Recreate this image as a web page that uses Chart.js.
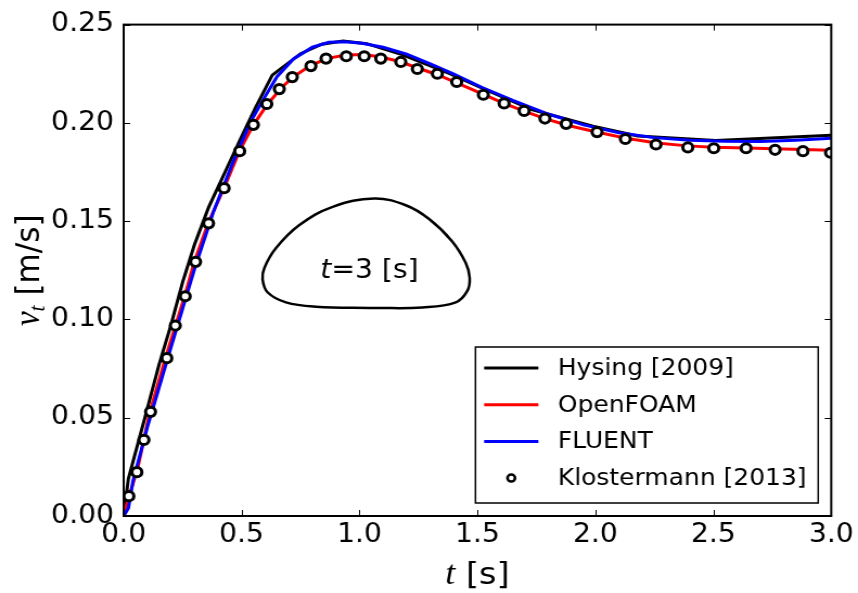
<!DOCTYPE html>
<html>
<head>
<meta charset="utf-8">
<script src="https://cdn.jsdelivr.net/npm/chart.js@4.4.1/dist/chart.umd.min.js"></script>
<style>
    html, body { margin: 0; padding: 0; background: #fff; overflow: hidden; }
</style>
</head>
<body>
<!-- figure is drawn 791 wide and stretched to 858, like the source image -->
<canvas id="chart" width="791" height="593" style="display:block;width:858px;height:593px"></canvas>
<script>
// ---- data ----
const hysingT = [0, 0.02, 0.09, 0.15, 0.20, 0.25, 0.30, 0.36, 0.43, 0.50, 0.56, 0.63, 0.75, 0.84, 0.93, 1.03, 1.18, 1.38, 1.52, 1.73, 1.99, 2.18, 2.51, 2.79, 3.0];
const hysingV = [0, 0.019, 0.050, 0.077, 0.097, 0.119, 0.138, 0.157, 0.175, 0.193, 0.208, 0.2243, 0.2352, 0.2400, 0.2416, 0.2403, 0.2347, 0.2252, 0.2177, 0.2067, 0.1983, 0.1933, 0.1911, 0.1925, 0.1937];

const foamT = [0, 0.02, 0.06, 0.11, 0.18, 0.26, 0.30, 0.36, 0.43, 0.49, 0.55, 0.61, 0.67, 0.72, 0.79, 0.86, 0.94, 1.02, 1.09, 1.17, 1.25, 1.33, 1.41, 1.52, 1.61, 1.70, 1.79, 1.88, 2.0, 2.13, 2.26, 2.39, 2.5, 2.64, 2.76, 2.88, 3.0];
const foamV = [0, 0.009, 0.0245, 0.0525, 0.0815, 0.1125, 0.1295, 0.1495, 0.168, 0.1855, 0.199, 0.2095, 0.218, 0.2235, 0.229, 0.2327, 0.2345, 0.2348, 0.2335, 0.2312, 0.2278, 0.2245, 0.2205, 0.2148, 0.2100, 0.2058, 0.2020, 0.1988, 0.1955, 0.1922, 0.1898, 0.1883, 0.1876, 0.1872, 0.1868, 0.1864, 0.1861];

const fluentT = [0, 0.02, 0.04, 0.10, 0.20, 0.30, 0.38, 0.46, 0.54, 0.60, 0.65, 0.72, 0.80, 0.87, 0.94, 1.01, 1.10, 1.20, 1.30, 1.40, 1.52, 1.65, 1.80, 1.95, 2.10, 2.25, 2.40, 2.55, 2.70, 2.85, 3.0];
const fluentV = [0, 0.004, 0.018, 0.045, 0.0855, 0.1255, 0.1545, 0.1790, 0.2009, 0.2135, 0.2235, 0.2325, 0.2385, 0.2410, 0.2413, 0.2405, 0.2385, 0.2350, 0.2300, 0.2248, 0.2180, 0.2115, 0.2045, 0.1990, 0.1950, 0.1925, 0.1912, 0.1906, 0.1905, 0.1912, 0.1922];

const klostT = [0.022, 0.056, 0.086, 0.114, 0.183, 0.219, 0.261, 0.305, 0.360, 0.426, 0.492, 0.550, 0.607, 0.660, 0.715, 0.794, 0.858, 0.944, 1.020, 1.090, 1.175, 1.245, 1.330, 1.412, 1.525, 1.613, 1.698, 1.786, 1.876, 2.007, 2.127, 2.257, 2.392, 2.502, 2.639, 2.762, 2.880, 2.997];
const klostV = [0.0101, 0.0223, 0.0387, 0.0530, 0.0803, 0.0969, 0.1118, 0.1293, 0.1489, 0.1668, 0.1856, 0.1990, 0.2096, 0.2172, 0.2233, 0.2289, 0.2327, 0.2339, 0.2339, 0.2327, 0.2310, 0.2274, 0.2250, 0.2208, 0.2143, 0.2099, 0.2061, 0.2022, 0.1995, 0.1953, 0.1918, 0.1890, 0.1875, 0.1871, 0.1871, 0.1863, 0.1856, 0.1848];

// bubble outline at t = 3 s (inset sketch, in axis units)
const bubbleX = [1.062, 1.266, 1.408, 1.457, 1.467, 1.450, 1.393, 1.295, 1.196, 1.062, 0.886, 0.745, 0.646, 0.597, 0.589, 0.611, 0.688, 0.815, 1.062];
const bubbleY = [0.1058, 0.1061, 0.1087, 0.1145, 0.1212, 0.1288, 0.1397, 0.1511, 0.1581, 0.1615, 0.1573, 0.1480, 0.1363, 0.1263, 0.1204, 0.1137, 0.1087, 0.1065, 0.1058];

const seriesNames = ['Hysing [2009]', 'OpenFOAM', 'FLUENT', 'Klostermann [2013]'];
const seriesColors = ['#000000', '#ff0000', '#0000ff', '#000000'];

const xTicks = [0, 0.5, 1.0, 1.5, 2.0, 2.5, 3.0];
const yTicks = [0, 0.05, 0.10, 0.15, 0.20, 0.25];

const pts = (xs, ys) => xs.map((x, i) => ({ x, y: ys[i] }));
const SANS = '"DejaVu Sans", sans-serif';
const SERIF_I = 'italic 33px "Liberation Serif", serif';

function lineSet(i, xs, ys, order) {
    return {
        label: seriesNames[i],
        data: pts(xs, ys),
        borderColor: seriesColors[i],
        borderWidth: 3,
        pointRadius: 0,
        tension: 0,
        fill: false,
        order,
    };
}

// frame + inward ticks on all four sides, titles, inset text, legend
const frame = {
    id: 'frame',
    afterDatasetsDraw(chart) {
        const { ctx, chartArea: a, scales: { x, y } } = chart;
        ctx.save();
        ctx.strokeStyle = '#000';
        ctx.lineWidth = 1;
        ctx.beginPath();
        xTicks.forEach(v => {
            const px = Math.round(x.getPixelForValue(v)) + 0.5;
            ctx.moveTo(px, a.bottom); ctx.lineTo(px, a.bottom - 6);
            ctx.moveTo(px, a.top); ctx.lineTo(px, a.top + 6);
        });
        yTicks.forEach(v => {
            const py = Math.round(y.getPixelForValue(v)) + 0.5;
            ctx.moveTo(a.left, py); ctx.lineTo(a.left + 6, py);
            ctx.moveTo(a.right, py); ctx.lineTo(a.right - 6, py);
        });
        ctx.stroke();
        ctx.lineWidth = 2;
        ctx.strokeRect(a.left, a.top, a.right - a.left, a.bottom - a.top);
        ctx.restore();
    },
    afterDraw(chart) {
        const { ctx, chartArea: a, scales: { x, y } } = chart;
        ctx.save();
        ctx.fillStyle = '#000';
        ctx.textBaseline = 'alphabetic';

        // inset label "t=3 [s]"
        const cx = x.getPixelForValue(1.042), cy = y.getPixelForValue(0.1255) + 9;
        ctx.font = 'oblique 26px ' + SANS;
        const w1 = ctx.measureText('t').width;
        ctx.font = '26px ' + SANS;
        const w2 = ctx.measureText('=3 [s]').width;
        let sx = cx - (w1 + w2) / 2;
        ctx.font = 'oblique 26px ' + SANS;
        ctx.fillText('t', sx, cy);
        ctx.font = '26px ' + SANS;
        ctx.fillText('=3 [s]', sx + w1, cy);

        // x-axis title
        ctx.font = SERIF_I;
        const tw = ctx.measureText('t').width;
        ctx.font = '31px ' + SANS;
        const sw = ctx.measureText(' [s]').width;
        sx = (a.left + a.right) / 2 - (tw + sw) / 2;
        ctx.font = SERIF_I;
        ctx.fillText('t', sx, 584);
        ctx.font = '31px ' + SANS;
        ctx.fillText(' [s]', sx + tw, 584);

        // y-axis title (rotated)
        ctx.translate(36, (a.top + a.bottom) / 2);
        ctx.rotate(-Math.PI / 2);
        ctx.font = SERIF_I;
        const vw = ctx.measureText('v').width;
        ctx.font = 'italic 22px "Liberation Serif", serif';
        const subw = ctx.measureText('t').width;
        ctx.font = '31px ' + SANS;
        const mw = ctx.measureText(' [m/s]').width;
        sx = -(vw + subw + mw) / 2;
        ctx.font = SERIF_I;
        ctx.fillText('v', sx, 0);
        ctx.font = 'italic 22px "Liberation Serif", serif';
        ctx.fillText('t', sx + vw, 5);
        ctx.font = '31px ' + SANS;
        ctx.fillText(' [m/s]', sx + vw + subw, 0);
        ctx.restore();

        // legend box, lower right inside the axes
        ctx.save();
        const bw = 316, bh = 156;
        const bx = a.right - 12 - bw, by = a.bottom - 13 - bh;
        ctx.fillStyle = '#fff';
        ctx.fillRect(bx, by, bw, bh);
        ctx.strokeStyle = '#000';
        ctx.lineWidth = 1.5;
        ctx.strokeRect(bx, by, bw, bh);
        ctx.font = '23px ' + SANS;
        ctx.textBaseline = 'middle';
        seriesNames.forEach((name, i) => {
            const ry = by + 21 + i * 36.7;
            if (i < 3) {
                ctx.strokeStyle = seriesColors[i];
                ctx.lineWidth = 3;
                ctx.beginPath();
                ctx.moveTo(bx + 8, ry); ctx.lineTo(bx + 58, ry);
                ctx.stroke();
            } else {
                ctx.strokeStyle = '#000';
                ctx.lineWidth = 2.5;
                ctx.beginPath();
                ctx.arc(bx + 33, ry, 3.5, 0, Math.PI * 2);
                ctx.stroke();
            }
            ctx.fillStyle = '#000';
            ctx.fillText(name, bx + 76, ry + 1);
        });
        ctx.restore();
    }
};

new Chart(document.getElementById('chart'), {
    type: 'line',
    data: {
        datasets: [
            {
                label: 'bubble',
                data: pts(bubbleX, bubbleY),
                borderColor: '#000',
                borderWidth: 2.5,
                pointRadius: 0,
                tension: 0.4,
                fill: false,
                order: 5,
            },
            lineSet(0, hysingT, hysingV, 4),
            lineSet(1, foamT, foamV, 3),
            lineSet(2, fluentT, fluentV, 2),
            {
                label: seriesNames[3],
                data: pts(klostT, klostV),
                showLine: false,
                pointRadius: 4.6,
                pointBorderWidth: 3,
                pointBorderColor: '#000',
                pointBackgroundColor: '#fff',
                order: 1,
            },
        ],
    },
    options: {
        responsive: false,
        animation: false,
        devicePixelRatio: 1,
        layout: { padding: { top: 19, right: 23, left: 0, bottom: 0 } },
        plugins: { legend: { display: false }, tooltip: { enabled: false } },
        scales: {
            x: {
                type: 'linear', min: 0, max: 3,
                afterBuildTicks: s => { s.ticks = xTicks.map(v => ({ value: v })); },
                afterFit: s => { s.height = 77; },
                grid: { display: false, drawTicks: false },
                border: { display: false },
                ticks: { color: '#000', padding: 4, font: { family: SANS, size: 26 }, maxRotation: 0,
                         callback: v => v.toFixed(1) },
            },
            y: {
                min: 0, max: 0.25,
                afterBuildTicks: s => { s.ticks = yTicks.map(v => ({ value: v })); },
                afterFit: s => { s.width = 114; },
                grid: { display: false, drawTicks: false },
                border: { display: false },
                ticks: { color: '#000', padding: 9, font: { family: SANS, size: 26 },
                         callback: v => v.toFixed(2) },
            },
        },
    },
    plugins: [frame],
});
</script>
</body>
</html>
